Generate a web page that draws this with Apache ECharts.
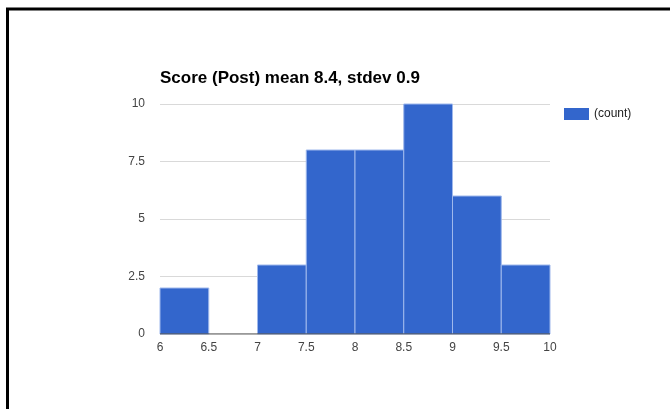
<!DOCTYPE html>
<html>
<head>
<meta charset="utf-8">
<script src="https://cdn.jsdelivr.net/npm/echarts@6/dist/echarts.min.js"></script>
<style>
	html, body { margin: 0; padding: 0; background: #fff; }
	#chart { width: 670px; height: 409px; }
</style>
</head>
<body>
<div id="chart"></div>
<script>
//直方图分箱边界
var binStart = [6, 6.5, 7, 7.5, 8, 8.5, 9, 9.5];
var binEnd = [6.5, 7, 7.5, 8, 8.5, 9, 9.5, 10];
//每个分箱的计数
var counts = [2, 0, 3, 8, 8, 10, 6, 3];
//纵轴刻度
var yTicks = [0, 2.5, 5, 7.5, 10];

var dom = document.getElementById("chart");
var myChart = echarts.init(dom);

var data = [];
for (var i = 0; i < counts.length; i++) {
	data.push([binStart[i], binEnd[i], counts[i]]);
}

function renderBin(params, api) {
	//计数为0的分箱不画
	if (api.value(2) <= 0) {
		return null;
	}
	var p0 = api.coord([api.value(0), api.value(2)]);
	var p1 = api.coord([api.value(1), 0]);
	return {
		type: 'rect',
		shape: { x: p0[0], y: p0[1], width: p1[0] - p0[0], height: p1[1] - p0[1] },
		style: { fill: '#3366cc', stroke: '#9fb8ec', lineWidth: 1 }
	};
}

var option = {
	animation: false,
	title: {
		text: 'Score (Post) mean 8.4, stdev 0.9',
		left: 155,
		top: 65,
		textStyle: { fontFamily: 'Liberation Sans, Arial', fontSize: 17, fontWeight: 'bold', color: '#000' }
	},
	legend: {
		left: 559,
		top: 103,
		itemWidth: 25,
		itemHeight: 12,
		itemGap: 6,
		icon: 'rect',
		data: ['(count)'],
		textStyle: { fontFamily: 'Liberation Sans, Arial', fontSize: 12, color: '#222' }
	},
	grid: { left: 160, top: 104, width: 390, height: 230 },
	xAxis: {
		type: 'value',
		min: 6,
		max: 10,
		interval: 0.5,
		splitLine: { show: false },
		axisTick: { show: false },
		axisLine: { show: false },
		axisLabel: { margin: 8, color: '#444', fontFamily: 'Liberation Sans, Arial', fontSize: 12 }
	},
	yAxis: {
		type: 'value',
		min: yTicks[0],
		max: yTicks[yTicks.length - 1],
		interval: 2.5,
		axisLine: { show: false },
		axisTick: { show: false },
		splitLine: { lineStyle: { color: '#d9d9d9', width: 1 } },
		axisLabel: { margin: 15, color: '#444', fontFamily: 'Liberation Sans, Arial', fontSize: 12 }
	},
	series: [
		{
			name: '(count)',
			type: 'custom',
			renderItem: renderBin,
			itemStyle: { color: '#3366cc' },
			encode: { x: [0, 1], y: 2 },
			data: data,
			z: 2
		},
		{
			type: 'line',
			data: [[6, 0], [10, 0]],
			symbol: 'none',
			silent: true,
			lineStyle: { color: '#333', width: 1 },
			z: 3
		}
	],
	graphic: [
		{
			type: 'polyline',
			shape: { points: [[7.5, 409], [7.5, 9], [670, 9]] },
			style: { stroke: '#000', lineWidth: 3, fill: null }
		}
	]
};

if (option && typeof option === "object") {
	myChart.setOption(option, true);
}
</script>
</body>
</html>
